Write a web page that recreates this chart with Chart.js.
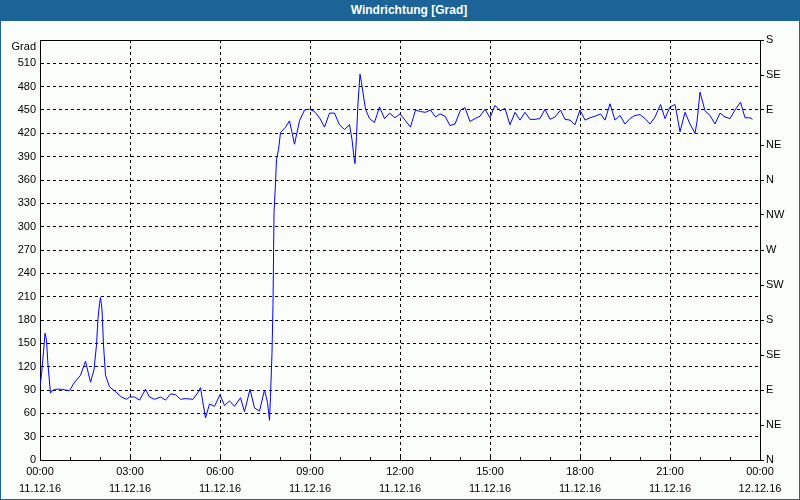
<!DOCTYPE html>
<html><head><meta charset="utf-8">
<script src="https://cdn.jsdelivr.net/npm/chart.js@4/dist/chart.umd.min.js"></script>
<style>
html,body{margin:0;padding:0;background:#fbfdfb;}
#wrap{position:relative;width:800px;height:500px;overflow:hidden;background:#fbfdfb;}
#c{position:absolute;left:0;top:0;width:800px;height:500px;}
#title{position:absolute;left:0;top:0;width:800px;height:21px;background:#1c6497;color:#fff;font:bold 12px "Liberation Sans",sans-serif;line-height:21px;text-align:center;box-sizing:border-box;padding-left:18px;}
#frame{position:absolute;left:0;top:0;width:800px;height:500px;box-sizing:border-box;border-left:1px solid #1c6497;border-right:1px solid #1c6497;border-bottom:1px solid #1c6497;pointer-events:none;}
</style></head>
<body><div id="wrap"><canvas id="c" width="800" height="500"></canvas><div id="frame"></div><div id="title">Windrichtung [Grad]</div></div>
<script>
// time in minutes since 11.12.16 00:00
const minutes = [0,3,7,10,13,16,21,24,31,43,59,68,81,91,101,108,113,116,119,121,124,127,131,139,149,163,173,179,189,199,211,219,229,241,251,261,271,281,291,306,315,321,325,331,339,349,360,369,379,389,401,409,420,429,439,449,455,459,461,464,466,468,471,473,477,481,491,499,509,519,529,539,549,559,569,579,589,599,609,619,624,628,630,633,636,640,643,646,651,659,669,679,689,699,710,720,730,741,751,761,771,781,791,800,810,820,830,841,850,860,870,880,890,900,910,920,930,940,950,960,970,980,990,1000,1010,1020,1030,1041,1050,1060,1070,1080,1090,1100,1110,1121,1130,1140,1150,1160,1170,1180,1190,1200,1210,1220,1230,1241,1250,1260,1270,1273,1280,1290,1300,1310,1314,1320,1330,1340,1350,1360,1370,1380,1390,1401,1410,1420,1425];
// wind direction in degrees
const direction = [95,110,139,163,154,122,86,89,91,91,89,99,109,127,100,116,148,182,201,209,193,148,109,94,89,81,78,81,81,77,91,81,78,81,77,85,84,78,79,78,86,93,77,54,72,69,84,70,76,69,80,62,91,67,63,90,74,51,82,138,200,318,356,386,399,421,428,436,406,436,450,451,448,440,428,446,446,431,425,431,412,389,381,416,459,496,485,472,451,439,434,454,439,446,440,445,437,428,450,448,447,450,441,445,442,430,432,450,453,435,439,442,451,440,456,449,452,431,447,437,447,438,438,439,451,438,441,450,438,437,431,450,437,440,442,445,437,458,437,443,432,439,443,444,439,432,441,457,439,454,457,447,422,447,432,420,435,473,449,443,432,446,441,439,450,460,440,440,438];
const timeTickLabels = ['00:00','03:00','06:00','09:00','12:00','15:00','18:00','21:00','00:00'];
const dateTickLabels = ['11.12.16','11.12.16','11.12.16','11.12.16','11.12.16','11.12.16','11.12.16','11.12.16','12.12.16'];
const dirLabels = ['N','NE','E','SE','S','SW','W','NW','N','NE','E','SE','S'];
const unitLabel = 'Grad';

const FONT = {family:'"Liberation Sans", Arial, sans-serif', size:11};

const framePlugin = {
  id:'frameLines',
  beforeDatasetsDraw(chart){
    const {ctx, chartArea:a, scales:{x}} = chart;
    ctx.save();
    ctx.strokeStyle='#000'; ctx.lineWidth=1;
    ctx.beginPath();
    ctx.moveTo(a.left, a.top+0.5); ctx.lineTo(a.right+1, a.top+0.5);
    for (let h=0; h<=24; h++){
      const px = Math.round(x.getPixelForValue(h*60))+0.5;
      ctx.moveTo(px, a.bottom); ctx.lineTo(px, a.bottom-3);
    }
    ctx.stroke();
    ctx.restore();
  }
};

new Chart(document.getElementById('c'), {
  type:'line',
  data:{datasets:[{
    data: minutes.map((m,i)=>({x:m, y:direction[i]})),
    borderColor:'#0000ff', borderWidth:1, pointRadius:0, tension:0, fill:false, yAxisID:'y'
  }]},
  plugins:[framePlugin],
  options:{
    responsive:false, animation:false, devicePixelRatio:1,
    layout:{padding:{top:40,left:0,right:0,bottom:0}},
    plugins:{legend:{display:false}, title:{display:false}, tooltip:{enabled:false}},
    scales:{
      x:{type:'linear', min:0, max:1440,
        afterFit(s){ s.height = 40; },
        ticks:{stepSize:60, autoSkip:false, maxRotation:0, minRotation:0, padding:4, color:'#000',
          font:{...FONT, lineHeight:1.5},
          callback(v){ if (v % 180) return ''; const i = v/180; return [timeTickLabels[i], dateTickLabels[i]]; }},
        grid:{color:(c)=> (c.tick && c.tick.value % 180 === 0) ? '#000' : 'rgba(0,0,0,0)', lineWidth:1, drawTicks:false},
        border:{color:'#000', width:1, dash:[3,3]}
      },
      y:{position:'left', min:0, max:540,
        afterFit(s){ s.width = 40; },
        ticks:{stepSize:30, autoSkip:false, padding:4, color:'#000', font:FONT,
          callback(v){ return v === 540 ? ['', unitLabel] : String(v); }},
        grid:{color:'#000', lineWidth:1, drawTicks:false},
        border:{color:'#000', width:1, dash:[3,3]}
      },
      y2:{position:'right', min:0, max:540,
        afterFit(s){ s.width = 40; },
        ticks:{stepSize:45, autoSkip:false, padding:2, color:'#000', font:FONT,
          callback(v){ return dirLabels[Math.round(v/45)]; }},
        grid:{drawOnChartArea:false, drawTicks:true, tickLength:4, color:'#000', lineWidth:1},
        border:{color:'#000', width:1}
      }
    }
  }
});
</script></body></html>
